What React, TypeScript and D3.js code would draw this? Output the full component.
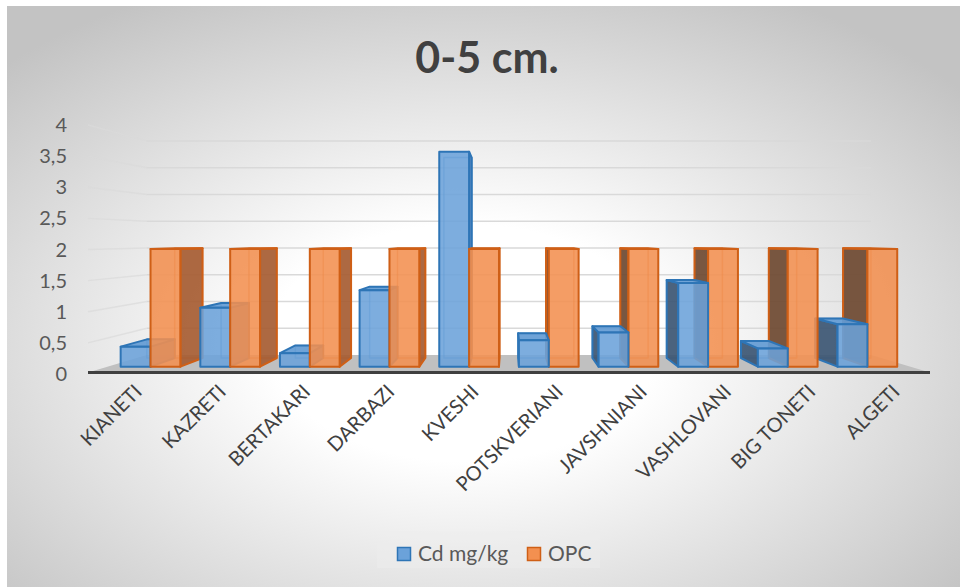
import React from "react";
import * as d3 from "d3";

const categories = ["KIANETI","KAZRETI","BERTAKARI","DARBAZI","KVESHI","POTSKVERIANI","JAVSHNIANI","VASHLOVANI","BIG TONETI","ALGETI"];
const seriesNames = ["Cd mg/kg","OPC"];
const cdValues = [0.34,1.0,0.23,1.3,3.65,0.45,0.58,1.42,0.31,0.72];
const opcValues = [2,2,2,2,2,2,2,2,2,2];
const yTicks = [0,0.5,1,1.5,2,2.5,3,3.5,4];

const W = 960, H = 587;
const FONT = "Lato, 'Open Sans', sans-serif";

// perspective
const CX = 508, CY = 238.5;
const K = 1 / 0.86 - 1;
const T_FRONT = 0.351, T_BACK = 0.822;
const proj = (X: number, Y: number, t: number): [number, number] => {
  const s = 1 / (1 + K * t);
  return [CX + (X - CX) * s, CY + (Y - CY) * s];
};
const pts = (a: [number, number][]) => a.map(p => p[0].toFixed(2) + "," + p[1].toFixed(2)).join(" ");

const styles = [
  { front: "#6ba2da", top: "#639bd4", sideR: "#4f80b8", sideL: "#3c5673", stroke: "#2e75b6" },
  { front: "#f39050", top: "#f08a48", sideR: "#a65c32", sideL: "#6e4931", stroke: "#cf5f16" },
];

export default function App() {
  const x = d3.scaleBand<string>().domain(categories).range([88, 930]);
  const y = d3.scaleLinear().domain([0, 4]).range([374, 125]);
  const inner = d3.scaleBand<string>().domain(seriesNames).range([0, x.bandwidth() * 0.75]);
  const pairOffset = x.bandwidth() * 0.125;

  type Bar = { X0: number; X1: number; v: number; si: number; key: string };
  const bars: Bar[] = [];
  categories.forEach((c, i) => {
    [cdValues[i], opcValues[i]].forEach((v, si) => {
      const X0 = (x(c) as number) + pairOffset + (inner(seriesNames[si]) as number);
      bars.push({ X0, X1: X0 + inner.bandwidth(), v, si, key: c + si });
    });
  });
  bars.sort((a, b) => Math.abs((b.X0 + b.X1) / 2 - CX) - Math.abs((a.X0 + a.X1) / 2 - CX));

  const Y0 = y(0);
  const [fx0, fy] = [88, 372.5];
  const [fx1] = [930];
  const bl = proj(fx0, Y0, 1), br = proj(fx1, Y0, 1);

  return (
    <svg width={W} height={H} style={{ position: "fixed", left: 0, top: 0 }} fontFamily={FONT}>
      <defs>
        <radialGradient id="bg" cx="0.48" cy="0.58" r="0.68">
          <stop offset="0" stopColor="#ffffff" />
          <stop offset="0.3" stopColor="#ffffff" />
          <stop offset="1" stopColor="#c3c3c3" />
        </radialGradient>
      </defs>
      <rect x={0} y={0} width={W} height={H} fill="#ffffff" />
      <rect x={7} y={6} width={W - 7} height={H - 6} fill="url(#bg)" />

      <text x={487} y={73} textAnchor="middle" fontSize={43} fontWeight="bold" fill="#404040">0-5 cm.</text>

      {/* back wall gridlines */}
      {yTicks.filter(v => v > 0).map(v => {
        const a = proj(88, y(v), 1), b = proj(930, y(v), 1), f = proj(88, y(v), 0);
        return (
          <g key={"g" + v}>
            <line x1={f[0]} y1={f[1]} x2={a[0]} y2={a[1]} stroke="#dadada" strokeWidth={1.5} strokeOpacity={0.7} />
            <line x1={a[0]} y1={a[1]} x2={b[0]} y2={b[1]} stroke="#d9d9d9" strokeWidth={1.5} />
          </g>
        );
      })}

      {/* floor */}
      <polygon points={pts([[fx0, fy], bl, br, [fx1, fy]])} fill="#c0c0c0" />
      <line x1={fx0} y1={fy} x2={fx1} y2={fy} stroke="#404040" strokeWidth={3} />

      {/* bars */}
      {bars.map(b => {
        const st = styles[b.si];
        const Yt = y(b.v);
        const c = (X: number, Y: number, t: number) => proj(X, Y, t);
        const front = [c(b.X0, Y0, T_FRONT), c(b.X1, Y0, T_FRONT), c(b.X1, Yt, T_FRONT), c(b.X0, Yt, T_FRONT)];
        const back = [c(b.X0, Y0, T_BACK), c(b.X1, Y0, T_BACK), c(b.X1, Yt, T_BACK), c(b.X0, Yt, T_BACK)];
        const left = [c(b.X0, Y0, T_FRONT), c(b.X0, Y0, T_BACK), c(b.X0, Yt, T_BACK), c(b.X0, Yt, T_FRONT)];
        const right = [c(b.X1, Y0, T_FRONT), c(b.X1, Y0, T_BACK), c(b.X1, Yt, T_BACK), c(b.X1, Yt, T_FRONT)];
        const top = [c(b.X0, Yt, T_FRONT), c(b.X1, Yt, T_FRONT), c(b.X1, Yt, T_BACK), c(b.X0, Yt, T_BACK)];
        const showL = b.X0 > CX, showR = b.X1 < CX, showTop = Yt > CY + 1;
        return (
          <g key={b.key} strokeLinejoin="round">
            <polygon points={pts(back)} fill="none" stroke={st.stroke} strokeWidth={1.5} strokeOpacity={0.5} />
            {showL && <polygon points={pts(left)} fill={st.sideL} fillOpacity={0.92} stroke={st.stroke} strokeWidth={2} />}
            {showR && <polygon points={pts(right)} fill={st.sideR} fillOpacity={0.92} stroke={st.stroke} strokeWidth={2} />}
            {showTop && <polygon points={pts(top)} fill={st.top} fillOpacity={0.92} stroke={st.stroke} strokeWidth={2} />}
            <polygon points={pts(front)} fill={st.front} fillOpacity={0.88} stroke={st.stroke} strokeWidth={2} />
          </g>
        );
      })}

      {/* y axis labels */}
      {yTicks.map(v => (
        <text key={"t" + v} x={67} y={y(v)} dy="0.35em" textAnchor="end" fontSize={20} fill="#595959">
          {String(v).replace(".", ",")}
        </text>
      ))}

      {/* category labels */}
      {categories.map(cat => {
        const X = (x(cat) as number) + x.bandwidth() / 2;
        return (
          <text key={cat} transform={`translate(${X + 13},${393}) rotate(-45)`} textAnchor="end" fontSize={20} fill="#404040">
            {cat}
          </text>
        );
      })}

      {/* legend */}
      <rect x={377} y={531} width={223} height={37} fill="#eeeeee" fillOpacity={0.45} />
      <rect x={397.5} y={547.5} width={13} height={13} fill={styles[0].front} stroke={styles[0].stroke} strokeWidth={1.5} />
      <text x={418} y={554} dy="0.35em" fontSize={21} fill="#595959">{seriesNames[0]}</text>
      <rect x={527.5} y={547.5} width={13} height={13} fill={styles[1].front} stroke={styles[1].stroke} strokeWidth={1.5} />
      <text x={548} y={554} dy="0.35em" fontSize={21} fill="#595959">{seriesNames[1]}</text>
    </svg>
  );
}
